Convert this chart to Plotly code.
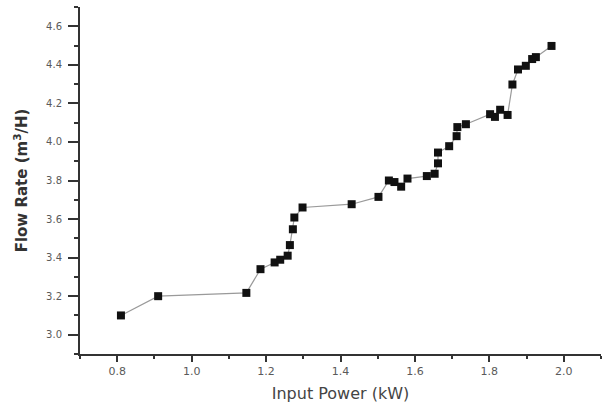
import plotly.graph_objects as go

power_kw = [0.81, 0.91, 1.147, 1.185, 1.223, 1.238, 1.258, 1.264, 1.272, 1.276, 1.298,
            1.43, 1.502, 1.53, 1.545, 1.563, 1.58, 1.632, 1.653, 1.662, 1.662,
            1.692, 1.712, 1.714, 1.737, 1.802, 1.815, 1.829, 1.849, 1.862, 1.877,
            1.898, 1.915, 1.925, 1.967]
flow_rate = [3.10, 3.20, 3.217, 3.34, 3.375, 3.389, 3.41, 3.465, 3.547, 3.608, 3.66,
             3.677, 3.715, 3.80, 3.792, 3.768, 3.81, 3.823, 3.835, 3.889, 3.945,
             3.978, 4.03, 4.077, 4.092, 4.144, 4.13, 4.167, 4.14, 4.298, 4.376,
             4.395, 4.43, 4.44, 4.498]

x_ticks = [0.8, 1.0, 1.2, 1.4, 1.6, 1.8, 2.0]
y_ticks = [3.0, 3.2, 3.4, 3.6, 3.8, 4.0, 4.2, 4.4, 4.6]

fig = go.Figure()
fig.add_trace(go.Scatter(
    x=power_kw, y=flow_rate, mode="lines+markers",
    line=dict(color="#9a9a9a", width=1.2),
    marker=dict(symbol="square", size=8, color="#111111"),
    showlegend=False,
))

font_family = "DejaVu Sans, Verdana, sans-serif"
fig.update_layout(
    width=607, height=406,
    margin=dict(l=80, r=6, t=7, b=52),
    paper_bgcolor="white", plot_bgcolor="white",
    font=dict(family=font_family),
    xaxis=dict(
        range=[0.7, 2.1], tickvals=x_ticks, ticktext=[f"{v:.1f}" for v in x_ticks],
        automargin=False,
        showgrid=False, zeroline=False, showline=True, linecolor="#333333", linewidth=2,
        ticks="outside", ticklen=6, tickwidth=1.5, tickcolor="#333333",
        tickfont=dict(size=11, color="#5a5a5a"),
        minor=dict(ticks="outside", dtick=0.1, tick0=0.7, ticklen=3, tickwidth=1.5, tickcolor="#333333", showgrid=False),
        title=dict(text="Input Power (kW)", font=dict(size=16, color="#444444"), standoff=11),
    ),
    yaxis=dict(
        range=[2.9, 4.7], tickvals=y_ticks, ticktext=[f"{v:.1f}" for v in y_ticks],
        automargin=False,
        showgrid=False, zeroline=False, showline=True, linecolor="#333333", linewidth=2,
        ticks="outside", ticklen=10, tickwidth=1.5, tickcolor="#333333",
        ticklabelstandoff=4,
        tickfont=dict(size=10, color="#5a5a5a"),
        minor=dict(ticks="outside", dtick=0.1, tick0=2.9, ticklen=4, tickwidth=1.5, tickcolor="#333333", showgrid=False),
        title=dict(text="<b>Flow Rate (m<sup>3</sup>/H)</b>", font=dict(size=15, color="#333333"), standoff=15),
    ),
)

fig.write_html("out.html", config={"displayModeBar": False},
               post_script="document.body.style.margin='0';")
